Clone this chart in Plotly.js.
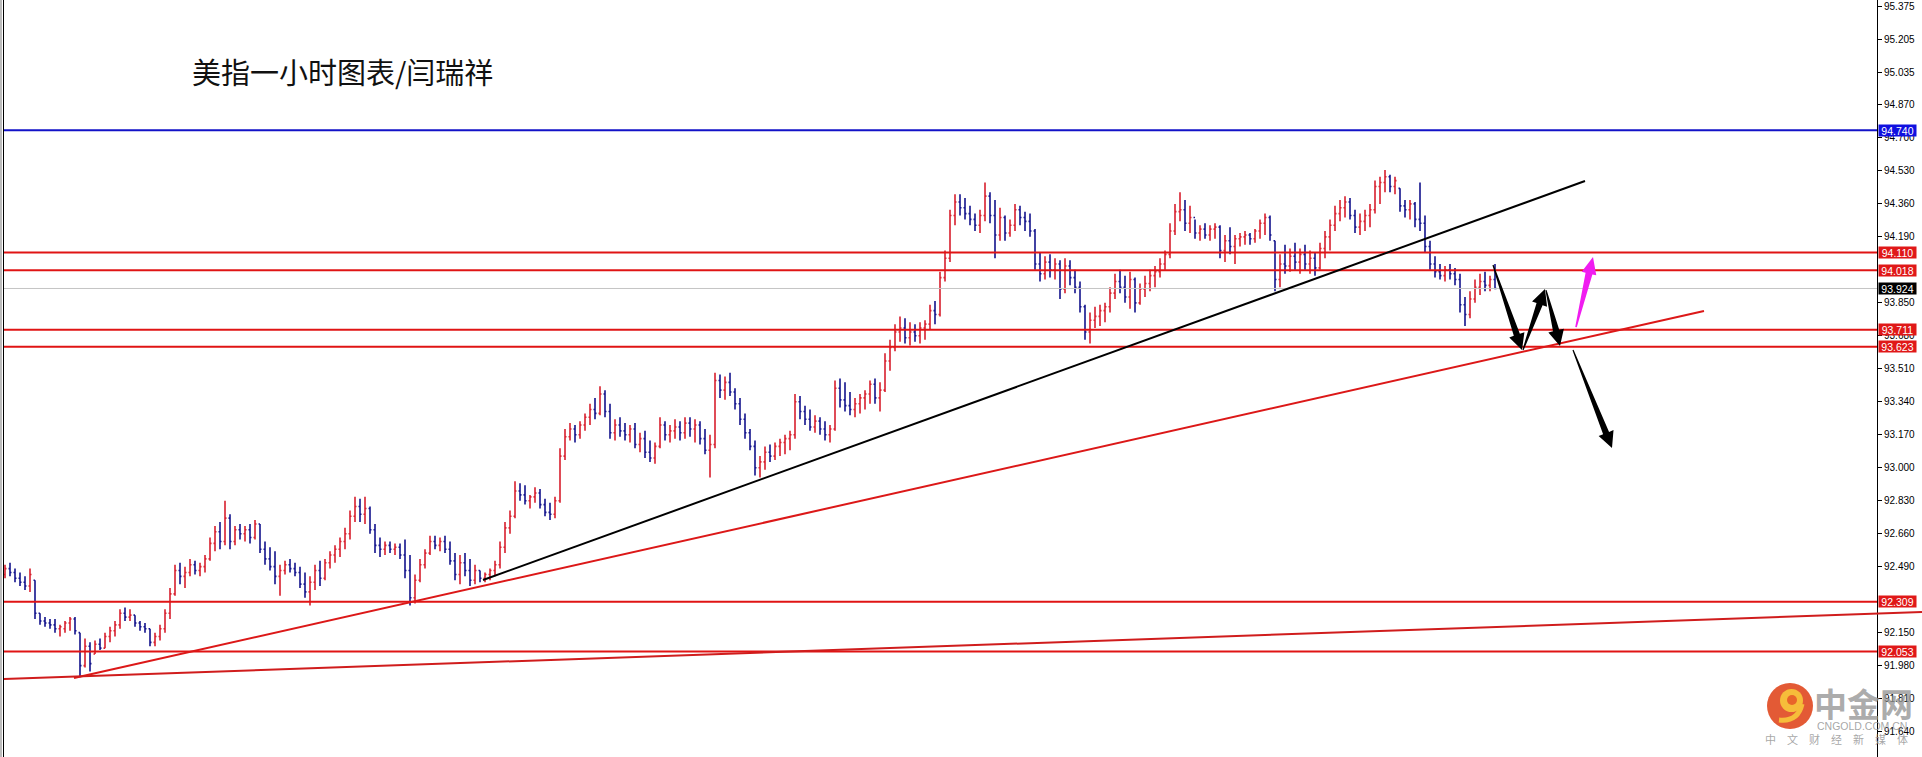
<!DOCTYPE html>
<html><head><meta charset="utf-8">
<script src="https://cdn.plot.ly/plotly-3.0.1.min.js"></script>
<style>html,body{margin:0;padding:0;background:#fff;overflow:hidden}</style>
</head><body>
<div id="chart" style="width:1922px;height:757px"></div>
<script>
// ---------------- DATA (US Dollar Index, 1-hour bars) ----------------
const opens = [
92.45,92.48,92.46,92.43,92.41,92.39,92.42,92.25,92.21,92.20,
92.19,92.17,92.17,92.20,92.22,92.15,91.98,92.08,92.04,92.09,
92.07,92.13,92.16,92.19,92.25,92.23,92.24,92.20,92.18,92.17,
92.10,92.13,92.17,92.25,92.35,92.47,92.44,92.46,92.50,92.47,
92.49,92.53,92.61,92.67,92.62,92.74,92.62,92.68,92.66,92.68,
92.64,92.71,92.58,92.53,92.49,92.44,92.47,92.50,92.48,92.46,
92.40,92.36,92.41,92.47,92.43,92.51,92.55,92.58,92.62,92.66,
92.75,92.80,92.76,92.79,92.68,92.60,92.58,92.60,92.58,92.59,
92.55,92.47,92.33,92.42,92.50,92.56,92.62,92.60,92.62,92.58,
92.52,92.45,92.51,92.47,92.42,92.47,92.43,92.45,92.47,92.50,
92.59,92.69,92.75,92.88,92.86,92.83,92.85,92.87,92.81,92.77,
92.76,92.83,93.06,93.16,93.20,93.17,93.22,93.26,93.30,93.28,
93.38,93.29,93.18,93.22,93.19,93.17,93.20,93.12,93.15,93.08,
93.05,93.11,93.22,93.17,93.19,93.21,93.18,93.23,93.20,93.22,
93.15,93.09,93.12,93.45,93.40,93.44,93.39,93.33,93.25,93.18,
93.11,93.00,93.03,93.08,93.06,93.11,93.13,93.15,93.17,93.34,
93.29,93.25,93.21,93.24,93.20,93.17,93.20,93.41,93.35,93.32,
93.30,93.33,93.36,93.38,93.43,93.36,93.40,93.55,93.62,93.70,
93.72,93.67,93.70,93.68,93.72,93.74,93.81,93.79,93.98,94.08,
94.30,94.37,94.34,94.31,94.28,94.25,94.30,94.40,94.30,94.20,
94.29,94.21,94.25,94.33,94.29,94.27,94.22,94.05,94.00,94.06,
94.02,94.05,93.92,94.04,93.98,93.93,93.83,93.70,93.76,93.78,
93.81,93.83,93.90,93.96,93.93,93.88,93.97,93.85,93.92,93.95,
93.99,94.01,94.05,94.10,94.22,94.32,94.33,94.26,94.29,94.21,
94.23,94.20,94.23,94.24,94.12,94.17,94.14,94.18,94.19,94.20,
94.18,94.22,94.26,94.29,94.17,93.97,94.05,94.04,94.09,94.06,
94.10,94.05,94.08,94.03,94.13,94.19,94.25,94.31,94.34,94.37,
94.30,94.24,94.27,94.30,94.33,94.45,94.47,94.50,94.45,94.44,
94.35,94.33,94.36,94.28,94.26,94.14,94.05,94.01,93.99,94.02,
94.00,93.97,93.84,93.79,93.87,93.93,93.96,93.94,93.97];
const highs = [
92.50,92.51,92.48,92.46,92.44,92.48,92.42,92.25,92.23,92.22,
92.22,92.19,92.21,92.23,92.23,92.15,92.12,92.10,92.11,92.12,
92.15,92.18,92.21,92.27,92.28,92.27,92.24,92.21,92.20,92.17,
92.15,92.19,92.27,92.38,92.50,92.51,92.49,92.53,92.52,92.51,
92.55,92.64,92.70,92.72,92.83,92.76,92.70,92.71,92.70,92.71,
92.73,92.71,92.62,92.59,92.57,92.50,92.52,92.53,92.51,92.49,
92.46,92.44,92.50,92.52,92.53,92.57,92.60,92.64,92.69,92.78,
92.85,92.84,92.85,92.80,92.71,92.64,92.62,92.62,92.61,92.61,
92.63,92.55,92.45,92.53,92.58,92.65,92.65,92.64,92.65,92.62,
92.56,92.55,92.56,92.53,92.50,92.47,92.46,92.48,92.52,92.62,
92.72,92.78,92.93,92.92,92.91,92.86,92.90,92.89,92.84,92.82,
92.85,93.10,93.20,93.23,93.22,93.24,93.28,93.33,93.36,93.42,
93.40,93.33,93.25,93.26,93.23,93.22,93.23,93.18,93.19,93.14,
93.13,93.26,93.24,93.22,93.25,93.24,93.26,93.26,93.25,93.24,
93.20,93.17,93.49,93.48,93.47,93.49,93.41,93.36,93.28,93.20,
93.14,93.06,93.11,93.12,93.13,93.15,93.17,93.19,93.38,93.37,
93.32,93.30,93.27,93.26,93.24,93.22,93.45,93.46,93.44,93.39,
93.36,93.38,93.40,93.45,93.46,93.44,93.59,93.66,93.74,93.78,
93.77,93.75,93.74,93.75,93.76,93.84,93.86,94.01,94.12,94.33,
94.41,94.41,94.39,94.35,94.31,94.33,94.47,94.42,94.38,94.34,
94.30,94.28,94.36,94.35,94.32,94.31,94.23,94.11,94.09,94.10,
94.08,94.07,94.08,94.07,94.02,93.96,93.84,93.80,93.83,93.84,
93.85,93.93,94.00,94.02,93.99,94.01,93.98,93.95,93.99,94.02,
94.04,94.08,94.12,94.26,94.36,94.42,94.38,94.35,94.28,94.25,
94.26,94.25,94.26,94.25,94.20,94.24,94.20,94.21,94.22,94.21,
94.23,94.28,94.31,94.30,94.17,94.10,94.15,94.13,94.16,94.13,
94.15,94.12,94.11,94.16,94.22,94.28,94.35,94.38,94.40,94.39,
94.33,94.31,94.33,94.36,94.48,94.50,94.535,94.51,94.50,94.44,
94.38,94.38,94.37,94.47,94.30,94.17,94.09,94.05,94.04,94.05,
94.03,94.00,93.88,93.91,93.97,94.00,94.01,93.99,94.05];
const lows = [
92.43,92.44,92.41,92.39,92.37,92.36,92.22,92.19,92.18,92.17,
92.15,92.13,92.15,92.16,92.14,91.92,91.97,91.95,92.04,92.06,
92.07,92.10,92.13,92.17,92.21,92.21,92.18,92.16,92.15,92.08,
92.08,92.11,92.15,92.22,92.34,92.40,92.38,92.44,92.45,92.44,
92.46,92.52,92.57,92.58,92.60,92.58,92.60,92.63,92.62,92.61,
92.63,92.56,92.50,92.47,92.40,92.34,92.45,92.46,92.44,92.38,
92.33,92.29,92.37,92.39,92.42,92.48,92.51,92.54,92.58,92.63,
92.72,92.72,92.71,92.66,92.56,92.54,92.55,92.56,92.55,92.53,
92.43,92.29,92.30,92.41,92.48,92.55,92.58,92.57,92.56,92.50,
92.42,92.40,92.44,92.39,92.40,92.41,92.41,92.42,92.44,92.48,
92.56,92.66,92.74,92.83,92.81,92.79,92.82,92.79,92.75,92.73,
92.74,92.82,93.04,93.14,93.13,93.15,93.19,93.22,93.25,93.27,
93.26,93.15,93.14,93.16,93.14,93.13,93.10,93.08,93.05,93.03,
93.02,93.10,93.14,93.13,93.15,93.14,93.15,93.16,93.13,93.12,
93.07,92.95,93.10,93.36,93.35,93.37,93.30,93.22,93.15,93.09,
92.96,92.95,92.99,93.03,93.04,93.06,93.07,93.09,93.15,93.25,
93.22,93.19,93.18,93.17,93.14,93.13,93.19,93.31,93.29,93.27,
93.26,93.28,93.30,93.33,93.33,93.29,93.39,93.50,93.60,93.65,
93.64,93.63,93.65,93.64,93.66,93.71,93.74,93.78,93.96,94.06,
94.25,94.30,94.28,94.25,94.22,94.21,94.27,94.26,94.08,94.17,
94.17,94.19,94.22,94.25,94.22,94.19,94.02,93.96,93.97,93.98,
93.97,93.87,93.90,93.94,93.90,93.80,93.66,93.64,93.72,93.73,
93.75,93.80,93.87,93.90,93.85,93.82,93.80,93.84,93.88,93.91,
93.93,93.98,94.02,94.08,94.20,94.27,94.22,94.21,94.18,94.17,
94.18,94.17,94.18,94.08,94.06,94.10,94.05,94.14,94.15,94.15,
94.16,94.18,94.20,94.17,93.91,93.93,94.00,94.01,94.02,94.00,
94.02,94.00,93.99,94.02,94.08,94.12,94.22,94.27,94.29,94.28,
94.21,94.20,94.22,94.24,94.31,94.36,94.42,94.42,94.41,94.32,
94.29,94.28,94.24,94.22,94.11,94.02,93.98,93.97,93.96,93.97,
93.94,93.80,93.73,93.77,93.85,93.89,93.91,93.91,93.92];
const closes = [
92.48,92.46,92.43,92.41,92.39,92.45,92.25,92.21,92.20,92.19,
92.17,92.18,92.20,92.22,92.16,91.98,92.08,91.99,92.09,92.07,
92.13,92.16,92.19,92.25,92.23,92.24,92.20,92.18,92.17,92.10,
92.13,92.17,92.25,92.35,92.47,92.44,92.46,92.50,92.47,92.49,
92.53,92.61,92.67,92.62,92.74,92.62,92.68,92.66,92.68,92.64,
92.71,92.58,92.53,92.49,92.44,92.47,92.50,92.48,92.46,92.40,
92.36,92.41,92.47,92.43,92.51,92.55,92.58,92.62,92.66,92.75,
92.80,92.76,92.79,92.68,92.60,92.58,92.60,92.58,92.59,92.55,
92.47,92.33,92.42,92.50,92.56,92.62,92.60,92.62,92.58,92.52,
92.45,92.51,92.47,92.42,92.47,92.43,92.45,92.47,92.50,92.59,
92.69,92.75,92.88,92.86,92.83,92.85,92.87,92.81,92.77,92.76,
92.83,93.06,93.16,93.20,93.17,93.22,93.26,93.30,93.28,93.38,
93.29,93.18,93.22,93.19,93.17,93.20,93.12,93.15,93.08,93.05,
93.11,93.22,93.17,93.19,93.21,93.18,93.23,93.20,93.22,93.15,
93.09,93.12,93.45,93.40,93.44,93.39,93.33,93.25,93.18,93.11,
93.00,93.03,93.08,93.06,93.11,93.13,93.15,93.17,93.34,93.29,
93.25,93.21,93.24,93.20,93.17,93.20,93.41,93.35,93.32,93.30,
93.33,93.36,93.38,93.43,93.36,93.40,93.55,93.62,93.70,93.72,
93.67,93.70,93.68,93.72,93.74,93.81,93.79,93.98,94.08,94.30,
94.37,94.34,94.31,94.28,94.25,94.30,94.40,94.30,94.20,94.29,
94.21,94.25,94.33,94.29,94.27,94.22,94.05,94.00,94.06,94.02,
94.05,93.92,94.04,93.98,93.93,93.83,93.70,93.76,93.78,93.81,
93.83,93.90,93.96,93.93,93.88,93.97,93.85,93.92,93.95,93.99,
94.01,94.05,94.10,94.22,94.32,94.33,94.26,94.29,94.21,94.23,
94.20,94.23,94.24,94.12,94.17,94.14,94.18,94.19,94.20,94.18,
94.22,94.26,94.29,94.20,93.97,94.05,94.04,94.09,94.06,94.10,
94.05,94.08,94.03,94.13,94.19,94.25,94.31,94.34,94.37,94.30,
94.24,94.27,94.30,94.33,94.45,94.47,94.50,94.45,94.48,94.35,
94.33,94.36,94.28,94.26,94.14,94.05,94.01,93.99,94.02,94.00,
93.97,93.84,93.79,93.87,93.93,93.96,93.94,93.97,93.924];

// horizontal levels
const redLevels = [94.110, 94.018, 93.711, 93.623, 92.309, 92.053];
const blueLevel = 94.740;
const lastPrice = 93.924;
// right-axis tick labels (94.020 and 92.320 sit under price tags in the original and are not visible)
const tickValues = [95.375,95.205,95.035,94.870,94.700,94.530,94.360,94.190,93.850,93.680,
                    93.510,93.340,93.170,93.000,92.830,92.660,92.490,92.150,91.980,91.810,91.640];
const titleText = '美指一小时图表/闫瑞祥';
// trend lines: [barIndex0, price0, barIndex1, price1]
const trendRedSteep = [13.8, 91.916, 339.8, 93.808];
const trendBlack    = [95.6, 92.421, 316.0, 94.478];
const trendRedFlat  = [-0.2, 91.911, 383.4, 92.256];
// forecast arrows: [tailIndex, tailPrice, tipIndex, tipPrice]
const blackArrows = [[297.6,94.045,303.4,93.607],[303.6,93.607,308.0,93.921],[308.2,93.916,311.0,93.627],[313.6,93.607,321.4,93.102]];
const pinkArrows  = [[314.2,93.725,317.6,94.086]];

// ---------------- LAYOUT GEOMETRY ----------------
const W = 1922, H = 757, ML = 4, MR = 45;
const plotW = W - ML - MR, plotH = H;
const xr = [-0.2, 374.4];
const yr = [95.411 - 757/194, 95.411];
const kx = plotW/(xr[1]-xr[0]), ky = plotH/(yr[1]-yr[0]);
const pxX = x => (x - ML)/plotW;          // pixel -> paper (x)
const pxY = y => 1 - y/plotH;             // pixel -> paper (y)
const dX = i => (i - xr[0])/(xr[1]-xr[0]); // data -> paper
const dY = p => (p - yr[0])/(yr[1]-yr[0]);

const idx = opens.map((_, i) => i);

function arrowPath(a, hl, hw, nw, tw){
  const X0=a[0]*kx, Y0=-a[1]*ky, X1=a[2]*kx, Y1=-a[3]*ky;
  const dx=X1-X0, dy=Y1-Y0, L=Math.hypot(dx,dy);
  const ux=dx/L, uy=dy/L, nx=-uy, ny=ux;
  const Nx=X1-ux*hl, Ny=Y1-uy*hl;
  const pts=[[X0+nx*tw,Y0+ny*tw],[Nx+nx*nw,Ny+ny*nw],[Nx+nx*hw,Ny+ny*hw],[X1,Y1],
             [Nx-nx*hw,Ny-ny*hw],[Nx-nx*nw,Ny-ny*nw],[X0-nx*tw,Y0-ny*tw]];
  return 'M' + pts.map(p => (p[0]/kx).toFixed(3) + ',' + (-p[1]/ky).toFixed(4)).join('L') + 'Z';
}

const shapes = [];
// left frame
shapes.push({type:'rect', xref:'paper', yref:'paper', x0:pxX(0), x1:pxX(2), y0:0, y1:1, fillcolor:'#bcbcbc', line:{width:0}});
shapes.push({type:'line', xref:'paper', yref:'paper', x0:pxX(3.5), x1:pxX(3.5), y0:0, y1:1, line:{color:'#000', width:1}});
// last price line
shapes.push({type:'line', xref:'paper', yref:'y', x0:0, x1:1, y0:lastPrice, y1:lastPrice, line:{color:'#c4c4c4', width:1}});
// levels
shapes.push({type:'line', xref:'paper', yref:'y', x0:0, x1:1, y0:blueLevel, y1:blueLevel, line:{color:'#1212c8', width:2}});
redLevels.forEach(p => shapes.push({type:'line', xref:'paper', yref:'y', x0:0, x1:1, y0:p, y1:p, line:{color:'#e01414', width:2}}));
// trend lines
shapes.push({type:'line', xref:'x', yref:'y', x0:trendRedSteep[0], y0:trendRedSteep[1], x1:trendRedSteep[2], y1:trendRedSteep[3], line:{color:'#dc1818', width:2}});
shapes.push({type:'line', xref:'x', yref:'y', x0:trendBlack[0], y0:trendBlack[1], x1:trendBlack[2], y1:trendBlack[3], line:{color:'#000', width:2}});
shapes.push({type:'line', xref:'paper', yref:'paper', x0:dX(trendRedFlat[0]), y0:dY(trendRedFlat[1]), x1:dX(trendRedFlat[2]), y1:dY(trendRedFlat[3]), line:{color:'#d01c1c', width:2}});
// arrows
blackArrows.forEach(a => shapes.push({type:'path', xref:'x', yref:'y', path:arrowPath(a,16,8,3.2,0.6), fillcolor:'#000', line:{width:0}}));
pinkArrows.forEach(a => shapes.push({type:'path', xref:'x', yref:'y', path:arrowPath(a,17,7.5,3.5,0.8), fillcolor:'#f01cf0', line:{width:0}}));
// watermark logo
shapes.push({type:'circle', xref:'paper', yref:'paper', x0:pxX(1767), x1:pxX(1813), y0:pxY(729), y1:pxY(683), fillcolor:'#e0481f', line:{width:0}, opacity:0.9});
shapes.push({type:'circle', xref:'paper', yref:'paper', x0:pxX(1780), x1:pxX(1803), y0:pxY(712), y1:pxY(689), fillcolor:'#f6bd3a', line:{width:0}});
shapes.push({type:'circle', xref:'paper', yref:'paper', x0:pxX(1787), x1:pxX(1797), y0:pxY(705), y1:pxY(695), fillcolor:'#e8652a', line:{width:0}});
shapes.push({type:'path', xref:'paper', yref:'paper',
  path:'M'+pxX(1779)+','+pxY(720)+' Q'+pxX(1798)+','+pxY(722)+' '+pxX(1802)+','+pxY(704),
  line:{color:'#f6bd3a', width:5}});

const annotations = [];
annotations.push({xref:'paper', yref:'paper', x:pxX(190), y:pxY(71), xanchor:'left', yanchor:'middle', showarrow:false,
  text:titleText, font:{family:'Noto Sans CJK SC', size:29, color:'#111'}});
function tag(p, bg){
  annotations.push({xref:'paper', yref:'y', x:1, y:p, xanchor:'left', yanchor:'middle', xshift:1, showarrow:false,
    width:37, height:11, align:'center', valign:'middle',
    text:p.toFixed(3), bgcolor:bg, borderpad:0, font:{family:'Liberation Sans', size:10.5, color:'#fff'}});
}
tag(blueLevel, '#1010e0');
redLevels.forEach(p => tag(p, '#e01818'));
tag(lastPrice, '#000');
// watermark text
annotations.push({xref:'paper', yref:'paper', x:pxX(1863), y:pxY(703), xanchor:'center', yanchor:'middle', showarrow:false,
  height:34, valign:'middle',
  text:'中金网', font:{family:'Noto Sans CJK SC', size:33, color:'rgba(150,150,150,0.8)', weight:'bold'}});
annotations.push({xref:'paper', yref:'paper', x:pxX(1862), y:pxY(726), xanchor:'center', yanchor:'middle', showarrow:false,
  height:10, valign:'middle',
  text:'CNGOLD.COM.CN', font:{family:'Liberation Sans', size:10.5, color:'rgba(150,150,150,0.85)'}});
annotations.push({xref:'paper', yref:'paper', x:pxX(1836), y:pxY(739), xanchor:'center', yanchor:'middle', showarrow:false,
  height:12, valign:'middle',
  text:'中\u2003文\u2003财\u2003经\u2003新\u2003媒\u2003体', font:{family:'Noto Sans CJK SC', size:11, color:'rgba(150,150,150,0.85)'}});

const trace = {
  type:'ohlc', x:idx, open:opens, high:highs, low:lows, close:closes,
  increasing:{line:{color:'#d8202e', width:1.6}},
  decreasing:{line:{color:'#13138c', width:1.6}},
  tickwidth:0.3, hoverinfo:'skip', showlegend:false
};

const layout = {
  width:W, height:H,
  margin:{l:ML, r:MR, t:0, b:0, pad:0},
  paper_bgcolor:'#fff', plot_bgcolor:'#fff',
  showlegend:false,
  xaxis:{range:xr, visible:false, showgrid:false, zeroline:false, rangeslider:{visible:false}, fixedrange:true},
  yaxis:{range:yr, side:'right', showgrid:false, zeroline:false, showline:true, linecolor:'#000', linewidth:1,
         ticks:'outside', ticklen:4, tickcolor:'#000', tickwidth:1,
         tickmode:'array', tickvals:tickValues, ticktext:tickValues.map(v => v.toFixed(3)),
         tickfont:{family:'Liberation Sans', size:10, color:'#000'}, fixedrange:true},
  shapes:shapes, annotations:annotations
};

Plotly.newPlot('chart', [trace], layout, {staticPlot:true, displayModeBar:false});
</script>
</body></html>
